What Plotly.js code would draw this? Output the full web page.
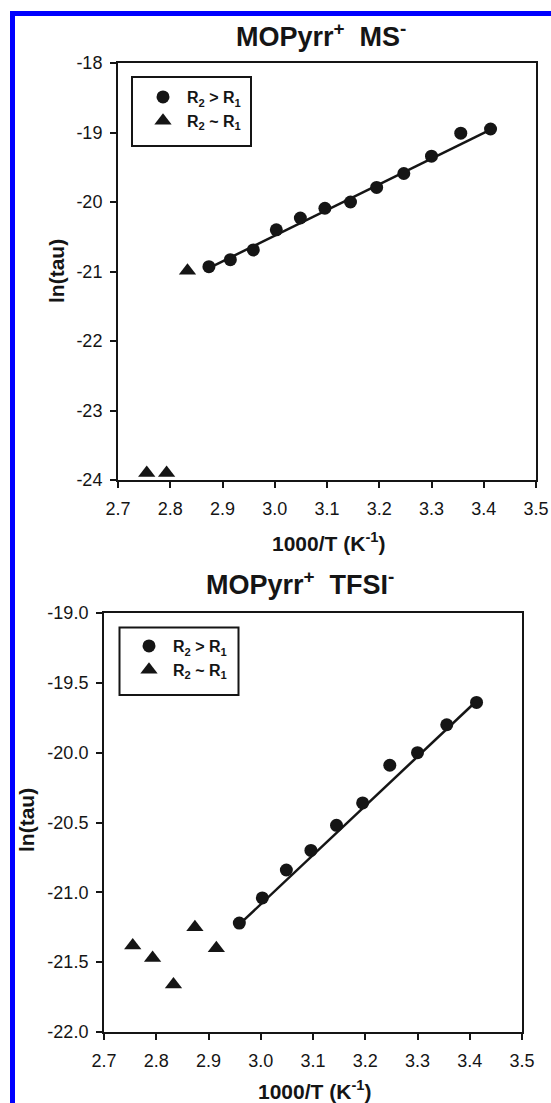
<!DOCTYPE html>
<html>
<head>
<meta charset="utf-8">
<script src="https://cdn.plot.ly/plotly-3.0.1.min.js"></script>
<style>
  html, body { margin: 0; padding: 0; background: #ffffff; }
  #chart { width: 551px; height: 1103px; }
</style>
</head>
<body>
<div id="chart"></div>
<script>
// ---------- data ----------
// Top panel: MOPyrr+ MS-
const msCircleX = [2.874, 2.915, 2.959, 3.003, 3.049, 3.096, 3.145, 3.195, 3.247, 3.300, 3.356, 3.413];
const msCircleY = [-20.93, -20.83, -20.69, -20.40, -20.23, -20.09, -20.00, -19.79, -19.59, -19.34, -19.01, -18.95];
const msTriX = [2.833, 2.755, 2.793];
const msTriY = [-20.99, -23.90, -23.90];
const msFitX = [2.874, 3.413];
const msFitY = [-20.95, -18.96];

// Bottom panel: MOPyrr+ TFSI-
const tfsiCircleX = [2.959, 3.003, 3.049, 3.096, 3.145, 3.195, 3.247, 3.300, 3.356, 3.413];
const tfsiCircleY = [-21.22, -21.04, -20.84, -20.70, -20.52, -20.36, -20.09, -20.00, -19.80, -19.64];
const tfsiTriX = [2.755, 2.793, 2.833, 2.874, 2.915];
const tfsiTriY = [-21.38, -21.47, -21.66, -21.25, -21.40];
const tfsiFitX = [2.959, 3.413];
const tfsiFitY = [-21.23, -19.63];

// Tick labels
const xTickVals = [2.7, 2.8, 2.9, 3.0, 3.1, 3.2, 3.3, 3.4, 3.5];
const xTickText = ['2.7', '2.8', '2.9', '3.0', '3.1', '3.2', '3.3', '3.4', '3.5'];
const msYTickVals = [-24, -23, -22, -21, -20, -19, -18];
const msYTickText = ['-24', '-23', '-22', '-21', '-20', '-19', '-18'];
const tfsiYTickVals = [-22.0, -21.5, -21.0, -20.5, -20.0, -19.5, -19.0];
const tfsiYTickText = ['-22.0', '-21.5', '-21.0', '-20.5', '-20.0', '-19.5', '-19.0'];

// Text
const seriesNames = ['R<sub>2</sub> &gt; R<sub>1</sub>', 'R<sub>2</sub> ~ R<sub>1</sub>'];
const panelTitles = ['MOPyrr<sup>+</sup>&nbsp;&nbsp;MS<sup>-</sup>', 'MOPyrr<sup>+</sup>&nbsp;&nbsp;TFSI<sup>-</sup>'];
const xTitle = '1000/T (K<sup>-1</sup>)';
const yTitle = 'ln(tau)';

// ---------- styling ----------
const W = 551, H = 1103;
const FONT = 'Arial, "Liberation Sans", sans-serif';
const INK = '#151515';
const px = v => v / W;
const py = v => 1 - v / H;

const markerCircle = { symbol: 'circle', size: 13, color: INK };
const markerTri = { symbol: 'triangle-up', size: 15, color: INK };
const fitLine = { color: INK, width: 2.5 };

const traces = [
  { x: msFitX, y: msFitY, mode: 'lines', line: fitLine, xaxis: 'x', yaxis: 'y', showlegend: false, hoverinfo: 'skip' },
  { x: msCircleX, y: msCircleY, mode: 'markers', marker: markerCircle, name: seriesNames[0], xaxis: 'x', yaxis: 'y', legend: 'legend', legendgroup: 'a' },
  { x: msTriX, y: msTriY, mode: 'markers', marker: markerTri, name: seriesNames[1], xaxis: 'x', yaxis: 'y', legend: 'legend', legendgroup: 'b' },
  { x: tfsiFitX, y: tfsiFitY, mode: 'lines', line: fitLine, xaxis: 'x2', yaxis: 'y2', showlegend: false, hoverinfo: 'skip' },
  { x: tfsiCircleX, y: tfsiCircleY, mode: 'markers', marker: markerCircle, name: seriesNames[0], xaxis: 'x2', yaxis: 'y2', legend: 'legend2', legendgroup: 'c' },
  { x: tfsiTriX, y: tfsiTriY, mode: 'markers', marker: markerTri, name: seriesNames[1], xaxis: 'x2', yaxis: 'y2', legend: 'legend2', legendgroup: 'd' }
];

function axisBase(extra) {
  return Object.assign({
    showline: true, linecolor: INK, linewidth: 2, mirror: true,
    ticks: 'outside', ticklen: 6, tickwidth: 2, tickcolor: INK,
    showgrid: false, zeroline: false, fixedrange: true,
    tickfont: { family: FONT, size: 18, color: INK },
    tickmode: 'array'
  }, extra);
}

const legendBase = {
  xanchor: 'left', yanchor: 'top', xref: 'paper', yref: 'paper',
  bgcolor: 'rgba(255,255,255,0)', borderwidth: 0,
  font: { family: FONT, size: 16, color: INK, weight: 'bold' },
  itemwidth: 38, tracegroupgap: 6, traceorder: 'normal'
};

function ann(text, x, y, size, angle) {
  return {
    text: text, xref: 'paper', yref: 'paper', x: px(x), y: py(y),
    xanchor: 'center', yanchor: 'middle', showarrow: false, textangle: angle || 0,
    font: { family: FONT, size: size, color: INK, weight: 'bold' }
  };
}

function box(x0, y0, x1, y1) {
  return { type: 'rect', xref: 'paper', yref: 'paper', x0: px(x0), x1: px(x1), y0: py(y1), y1: py(y0),
    line: { color: INK, width: 2 }, fillcolor: '#ffffff', layer: 'below' };
}

const layout = {
  width: W, height: H,
  margin: { l: 0, r: 0, t: 0, b: 0, pad: 0 },
  paper_bgcolor: '#ffffff', plot_bgcolor: 'rgba(255,255,255,0)',
  showlegend: true,
  xaxis: axisBase({ domain: [px(118), px(536)], range: [2.7, 3.5], tickvals: xTickVals, ticktext: xTickText, anchor: 'y', ticklabelstandoff: 5 }),
  yaxis: axisBase({ domain: [py(480), py(63)], range: [-24, -18], tickvals: msYTickVals, ticktext: msYTickText, anchor: 'x', ticklabelstandoff: 4 }),
  xaxis2: axisBase({ domain: [px(104), px(522)], range: [2.7, 3.5], tickvals: xTickVals, ticktext: xTickText, anchor: 'y2', ticklabelstandoff: 5 }),
  yaxis2: axisBase({ domain: [py(1032), py(613)], range: [-22, -19], tickvals: tfsiYTickVals, ticktext: tfsiYTickText, anchor: 'x2', ticklabelstandoff: 4 }),
  legend: Object.assign({}, legendBase, { x: px(139), y: py(80) }),
  legend2: Object.assign({}, legendBase, { x: px(125), y: py(629) }),
  annotations: [
    ann(panelTitles[0], 321, 35, 27),
    ann(xTitle, 328, 542, 21),
    ann(yTitle, 56, 271, 21, -90),
    ann(panelTitles[1], 300, 583, 27),
    ann(xTitle, 314, 1090, 21),
    ann(yTitle, 26, 820, 21, -90)
  ],
  shapes: [
    box(132, 77, 251, 146),
    box(119.5, 627.5, 238.5, 695),
    { type: 'rect', xref: 'paper', yref: 'paper', x0: px(12.5), x1: px(551 + 5), y0: py(1103 + 10), y1: py(13.5),
      line: { color: '#0000ff', width: 5 }, fillcolor: 'rgba(0,0,0,0)', layer: 'above' }
  ]
};

Plotly.newPlot('chart', traces, layout, { displayModeBar: false, staticPlot: true });
</script>
</body>
</html>
